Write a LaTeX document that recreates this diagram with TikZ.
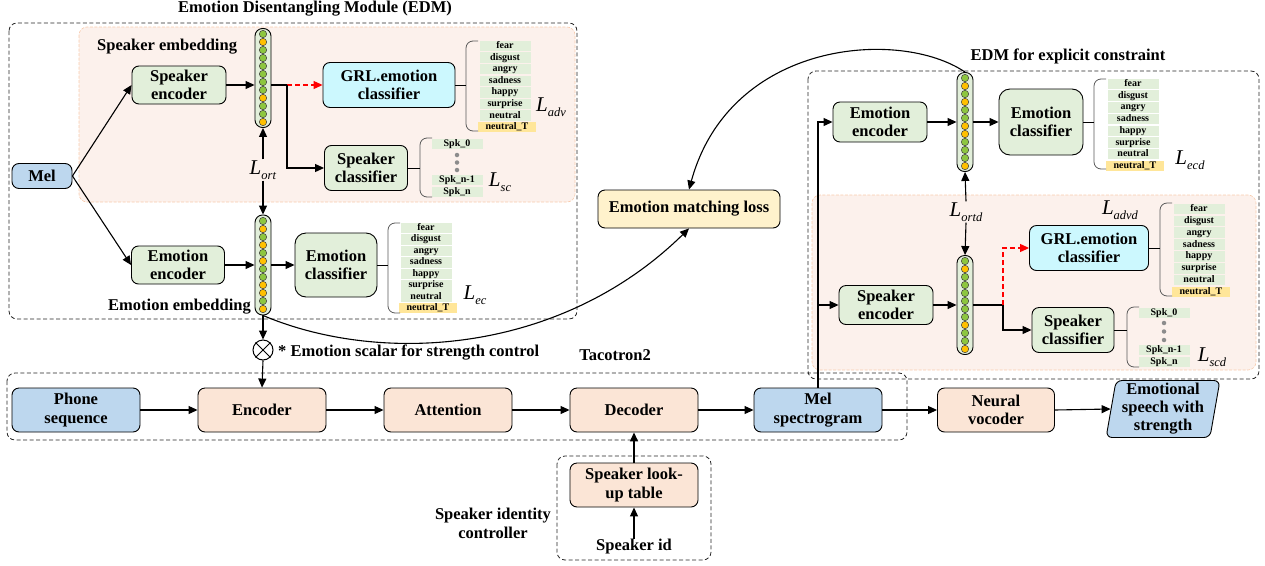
\documentclass[tikz,border=0pt]{standalone}
\usepackage{fontspec}
\setmainfont{Liberation Serif}
\usetikzlibrary{arrows.meta,calc,shapes.geometric}
\definecolor{gfill}{HTML}{E2EFDA}
\definecolor{cfill}{HTML}{CCF8FE}
\definecolor{bfill}{HTML}{BDD7EE}
\definecolor{pfill}{HTML}{FBE5D6}
\definecolor{yfill}{HTML}{FFF2CC}
\definecolor{pinkbg}{HTML}{FCF1EC}
\definecolor{pinkline}{HTML}{F8CBAD}
\definecolor{itemy}{HTML}{FFE699}
\definecolor{cg}{HTML}{8DC63F}
\definecolor{co}{HTML}{FFC000}
\newcommand{\drawcircles}[2]{\foreach \cc [count=\ii] in {#2} {\filldraw[fill=\cc, draw=black!75, line width=0.5pt] ($(#1.center)+(0,{(\ii-6.5)*8})$) circle (3.7);}}
\newcommand{\Lsub}[1]{\fontsize{21}{21}\selectfont\textit{L}\raisebox{-5pt}{\fontsize{12.5}{12.5}\selectfont\textit{#1}}}
\newcommand{\emolist}[4]{%
  \foreach \lb [count=\ii] in {fear,disgust,angry,sadness,happy,surprise,neutral} {\node[item] (#4\ii) at (#1, {#2+(\ii-1)*#3}) {\lb};}
  \node[item, fill=itemy, minimum width=58] (#4t) at ({#1+2}, {#2+7*#3}) {neutral\_T};}
\begin{document}
\begin{tikzpicture}[x=1pt,y=-1pt,
  box/.style={draw=black, line width=0.9pt, rounded corners=7pt, align=center, inner sep=0pt, font=\bfseries\fontsize{16.5}{18.5}\selectfont},
  gbox/.style={box, fill=gfill},
  cbox/.style={box, fill=cfill},
  bbox/.style={box, fill=bfill},
  pbox/.style={box, fill=pfill},
  vecbox/.style={draw=black, line width=0.9pt, rounded corners=7.5pt, fill=gfill, minimum width=16, minimum height=99, inner sep=0},
  arr/.style={-{Triangle[length=9pt,width=8pt]}, line width=1.1pt},
  redarr/.style={-{Triangle[length=9pt,width=8pt]}, line width=1.1pt, draw=red, dash pattern=on 5pt off 3pt},
  dbox/.style={draw=black!85, line width=0.8pt, dash pattern=on 4pt off 2.5pt, rounded corners=8pt},
  pinkbox/.style={fill=pinkbg, draw=pinkline, line width=0.6pt, dash pattern=on 3pt off 1.5pt, rounded corners=8pt},
  lbl/.style={font=\bfseries\fontsize{16.5}{19}\selectfont, align=center, inner sep=0},
  item/.style={fill=gfill, minimum width=51, minimum height=10.5, text height=7pt, text depth=2pt, inner sep=0, font=\bfseries\fontsize{10}{10}\selectfont},
  brace/.style={draw=black!65, line width=0.8pt, rounded corners=7pt},
  lossl/.style={inner sep=1pt},
  dot/.style={circle, fill=black!45, inner sep=0, minimum size=4.5}
]
\useasboundingbox (0,0) rectangle (1265,565);

% ---------- background containers ----------
\draw[dbox] (9,23) rectangle (577,319);
\draw[pinkbox] (79,27) rectangle (575,202);
\draw[dbox] (808,71) rectangle (1259,379);
\draw[pinkbox] (812,195) rectangle (1256,370);
\draw[dbox] (7,373) rectangle (907,440);
\draw[dbox] (557,456) rectangle (711,560);

% ---------- titles ----------
\node[lbl] (t1) at (315,9) {Emotion Disentangling Module (EDM)};
\node[lbl] (t2) at (1068,56) {EDM for explicit constraint};
\node[lbl, anchor=west] (t3) at (97,47) {Speaker embedding};
\node[lbl, anchor=east] (t4) at (251,307) {Emotion embedding};
\node[lbl, anchor=west] (t5) at (278,353) {* Emotion scalar for strength control};
\node[lbl] (t6) at (615,355) {Tacotron2};
\node[lbl] (t7) at (493,523) {Speaker identity\\controller};

% ---------- left EDM ----------
\node[bbox, minimum width=60, minimum height=25] (mel) at (42,176) {Mel};
\node[gbox, minimum width=94, minimum height=38] (spkenc) at (179,85) {Speaker\\encoder};
\node[gbox, minimum width=93, minimum height=38] (emoenc) at (178,265) {Emotion\\encoder};
\node[vecbox] (v1) at (263,78) {};
\drawcircles{v1}{cg,co,cg,cg,cg,cg,cg,cg,co,cg,cg,co}
\node[vecbox, minimum height=100] (v2) at (263,265) {};
\drawcircles{v2}{cg,co,cg,co,cg,co,cg,cg,co,co,cg,co}
\node[cbox, minimum width=132, minimum height=45] (grl) at (389,85) {GRL.emotion\\classifier};
\node[gbox, minimum width=83, minimum height=45] (spkcls) at (366,168) {Speaker\\classifier};
\node[gbox, minimum width=82, minimum height=64, rounded corners=11pt] (emocls) at (336,265) {Emotion\\classifier};
\node[lossl] (lort) at (263,170) {\Lsub{ort}};
\node[circle, draw, line width=1pt, minimum size=20, inner sep=0] (ot) at (263,350) {};
\draw[line width=1pt] (ot.north west) -- (ot.south east) (ot.north east) -- (ot.south west);

\coordinate (j1) at (287,85);
\draw[arr] (mel.east) -- (spkenc.west);
\draw[arr] (mel.east) -- (emoenc.west);
\draw[arr] (spkenc.east) -- (spkenc.east -| v1.west);
\draw[line width=1.1pt] (v1.east |- j1) -- (j1);
\draw[redarr] (j1) -- (grl.west);
\draw[arr] (j1) |- (spkcls.west);
\draw[arr] (lort.north) -- (v1.south);
\draw[arr] (lort.south) -- (v2.north);
\draw[arr] (emoenc.east) -- (v2.west);
\draw[arr] (v2.east) -- (emocls.west);
\draw[arr] (v2.south) -- (ot.north);

% lists left
\emolist{505}{46}{11.6}{a}
\emolist{426}{228}{11.45}{b}
\draw[brace] (478,41) -- (466,41) -- (466,131) -- (478,131);
\coordinate (ba) at (466,85);
\draw[line width=0.9pt] (grl.east) -- (ba);
\draw[brace] (400,223) -- (388,223) -- (388,313) -- (400,313);
\coordinate (bb) at (388,265);
\draw[line width=0.9pt] (emocls.east) -- (bb);
\node[item] (s0) at (457,144) {Spk\_0};
\node[dot] (d1) at (457,155) {};
\node[dot] (d2) at (457,162.5) {};
\node[dot] (d3) at (457,170) {};
\node[item] (s1) at (457,180) {Spk\_n-1};
\node[item] (s2) at (457,192) {Spk\_n};
\draw[brace] (432,138) -- (420,138) -- (420,197) -- (432,197);
\coordinate (bs) at (420,168);
\draw[line width=0.9pt] (spkcls.east) -- (bs);
\node[lossl] (ladv) at (551,107) {\Lsub{adv}};
\node[lossl] (lsc) at (500,182) {\Lsub{sc}};
\node[lossl] (lec) at (475,295) {\Lsub{ec}};

% ---------- emotion matching loss ----------
\node[box, fill=yfill, minimum width=182, minimum height=38] (eml) at (689,209) {Emotion matching loss};

% ---------- right EDM ----------
\node[gbox, minimum width=94, minimum height=40] (emoenc2) at (880,122) {Emotion\\encoder};
\node[vecbox] (v3) at (965,122) {};
\drawcircles{v3}{cg,co,cg,co,cg,cg,co,co,cg,cg,cg,co}
\node[gbox, minimum width=84, minimum height=66, rounded corners=11pt] (emocls2) at (1041,122) {Emotion\\classifier};
\node[gbox, minimum width=94, minimum height=39] (spkenc2) at (886,305) {Speaker\\encoder};
\node[vecbox] (v4) at (965,305) {};
\drawcircles{v4}{cg,co,cg,cg,cg,cg,cg,cg,co,cg,cg,co}
\node[cbox, minimum width=119, minimum height=45] (grl2) at (1089,248) {GRL.emotion\\classifier};
\node[gbox, minimum width=82, minimum height=45] (spkcls2) at (1073,330) {Speaker\\classifier};
\node[lossl] (lortd) at (966,212) {\Lsub{ortd}};

\coordinate (j2) at (1003,305);
\draw[arr] (emoenc2.east) -- (v3.west);
\draw[arr] (v3.east) -- (emocls2.west);
\draw[arr] (lortd.north) -- (v3.south);
\draw[arr] (lortd.south) -- (v4.north);
\draw[arr] (spkenc2.east) -- (v4.west);
\draw[line width=1.1pt] (v4.east) -- (j2);
\draw[redarr] (j2) |- (grl2.west);
\draw[arr] (j2) |- (spkcls2.west);

\emolist{1133}{84}{11.7}{c}
\emolist{1199}{209}{11.85}{d}
\draw[brace] (1106,79) -- (1094,79) -- (1094,169) -- (1106,169);
\coordinate (bc) at (1094,122);
\draw[line width=0.9pt] (emocls2.east) -- (bc);
\draw[brace] (1172,203) -- (1160,203) -- (1160,296) -- (1172,296);
\coordinate (bd) at (1160,248);
\draw[line width=0.9pt] (grl2.east) -- (bd);
\node[item] (r0) at (1164,313) {Spk\_0};
\node[dot] (e1) at (1164,323) {};
\node[dot] (e2) at (1164,331.5) {};
\node[dot] (e3) at (1164,340) {};
\node[item] (r1) at (1164,350) {Spk\_n-1};
\node[item] (r2) at (1164,362) {Spk\_n};
\draw[brace] (1139,307) -- (1127,307) -- (1127,367) -- (1139,367);
\coordinate (br) at (1127,330);
\draw[line width=0.9pt] (spkcls2.east) -- (br);
\node[lossl] (lecd) at (1190,160) {\Lsub{ecd}};
\node[lossl] (ladvd) at (1120,210) {\Lsub{advd}};
\node[lossl] (lscd) at (1212,357) {\Lsub{scd}};

% ---------- Tacotron2 row ----------
\node[bbox, minimum width=128, minimum height=44] (phone) at (76,410) {Phone\\sequence};
\node[pbox, minimum width=128, minimum height=44] (encoder) at (262,410) {Encoder};
\node[pbox, minimum width=128, minimum height=44] (attention) at (448,410) {Attention};
\node[pbox, minimum width=128, minimum height=44] (decoder) at (634,410) {Decoder};
\node[bbox, minimum width=128, minimum height=44] (melspec) at (818,410) {Mel\\spectrogram};
\node[pbox, minimum width=117, minimum height=44] (vocoder) at (996,410) {Neural\\vocoder};
\node[box, fill=bfill, trapezium, trapezium left angle=80, trapezium right angle=100, trapezium stretches=true, minimum width=114, minimum height=57, inner xsep=3pt, inner ysep=1pt, rounded corners=6pt, font=\bfseries\fontsize{16.5}{18}\selectfont] (out) at (1163,409) {Emotional\\speech with\\strength};
\node[pbox, minimum width=128, minimum height=44] (lookup) at (634,485) {Speaker look-\\up table};
\node[lbl] (spkid) at (634,547) {Speaker id};

\draw[arr] (ot.south) -- (encoder.north);
\draw[arr] (phone.east) -- (encoder.west);
\draw[arr] (encoder.east) -- (attention.west);
\draw[arr] (attention.east) -- (decoder.west);
\draw[arr] (decoder.east) -- (melspec.west);
\draw[arr] (melspec.east) -- (vocoder.west);
\draw[arr] (vocoder.east) -- (out.west);
\draw[arr] (lookup.north) -- (decoder.south);
\draw[arr] (spkid.north) -- (lookup.south);
\draw[arr] (melspec.north) |- (emoenc2.west);
\draw[arr] (melspec.north |- spkenc2.west) -- (spkenc2.west);

% ---------- curves to emotion matching loss ----------
\draw[arr] (v3.north) .. controls (900,28) and (730,40) .. (eml.north);
\draw[arr] (v2.south) .. controls (380,365) and (560,355) .. (eml.south);
\end{tikzpicture}
\end{document}
